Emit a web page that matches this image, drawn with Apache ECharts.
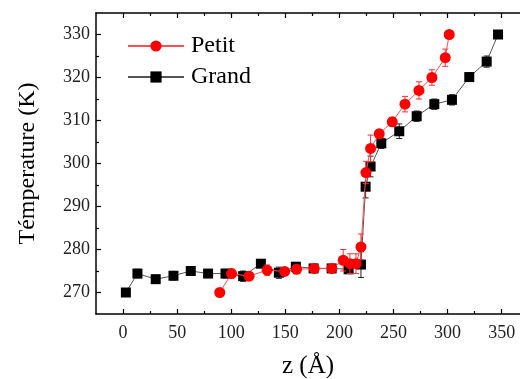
<!DOCTYPE html>
<html>
<head>
<meta charset="utf-8">
<script src="https://cdn.jsdelivr.net/npm/echarts@6/dist/echarts.min.js"></script>
<style>
  html, body { margin: 0; padding: 0; background: #fff; }
  #chart { width: 520px; height: 379px; }
</style>
</head>
<body>
<div id="chart"></div>
<script>
const grandZ = [2.6, 13.3, 30.2, 46.6, 62.6, 78.6, 94.7, 111, 127.4, 144, 159.7, 176.1, 192.8, 208.5, 219.9, 224.2, 228.8, 238.7, 255.3, 271.4, 287.7, 304, 320, 336.1, 346.6];
const grandT = [270.0, 274.4, 273.1, 273.9, 275.0, 274.4, 274.4, 273.8, 276.7, 274.6, 276.0, 275.6, 275.6, 275.4, 276.5, 294.6, 299.3, 304.7, 307.5, 311.0, 313.8, 314.8, 320.1, 323.7, 330.0];
const grandErr = [0, 1.0, 0.9, 1.0, 1.0, 0.8, 1.0, 1.2, 0.9, 1.3, 0.8, 0.9, 0.8, 1.0, 3.0, 2.6, 2.4, 1.2, 1.7, 1.2, 1.2, 1.2, 1.0, 1.3, 0];

const petitZ = [89.4, 100.3, 116.5, 133.2, 149.3, 160.4, 176.7, 193, 203.5, 209.7, 215.3, 219.9, 224.5, 228.8, 236.8, 248.8, 260.6, 273.5, 285.5, 297.8, 301.5];
const petitT = [270.0, 274.4, 273.8, 275.2, 274.9, 275.4, 275.6, 275.6, 277.5, 276.7, 276.7, 280.6, 297.9, 303.5, 306.9, 309.7, 313.8, 317.0, 320.0, 324.6, 330.0];
const petitErr = [0, 1.0, 0.9, 1.2, 0.9, 1.0, 1.0, 1.0, 2.5, 2.3, 2.3, 3.0, 2.6, 3.1, 0.9, 1.0, 1.8, 2.0, 1.8, 2.0, 0];

const xMajor = [0, 50, 100, 150, 200, 250, 300, 350];
const xMinor = [25, 75, 125, 175, 225, 275, 325];
const yMajor = [270, 280, 290, 300, 310, 320, 330];
const yMinor = [275, 285, 295, 305, 315, 325];

const FONT = '"Liberation Serif", "DejaVu Serif", serif';
const X_MIN = -25;
const X_MAX = 366.9;
const Y_MIN = 265;
const Y_MAX = 335;

const zip = (xs, ys) => xs.map((x, i) => [x, ys[i]]);
const zip3 = (xs, ys, es) => xs.map((x, i) => [x, ys[i], es[i]]);

const errorBars = (color) => (params, api) => {
  const x = api.value(0);
  const y = api.value(1);
  const e = api.value(2);
  if (!e) return;
  const top = api.coord([x, y + e]);
  const bot = api.coord([x, y - e]);
  const cap = 3;
  const style = { stroke: color, lineWidth: 1 };
  return {
    type: 'group',
    children: [
      { type: 'line', shape: { x1: top[0], y1: top[1], x2: bot[0], y2: bot[1] }, style },
      { type: 'line', shape: { x1: top[0] - cap, y1: top[1], x2: top[0] + cap, y2: top[1] }, style },
      { type: 'line', shape: { x1: bot[0] - cap, y1: bot[1], x2: bot[0] + cap, y2: bot[1] }, style },
    ],
  };
};

const xAxisBase = (position, ticks, length, showLine, showLabel) => ({
  type: 'value',
  position,
  min: X_MIN,
  max: X_MAX,
  splitLine: { show: false },
  axisLine: { show: showLine, onZero: false, lineStyle: { color: '#000', width: 1.5 } },
  axisTick: { show: true, inside: true, length, customValues: ticks, lineStyle: { color: '#000', width: 1.2 } },
  axisLabel: { show: showLabel, customValues: ticks, margin: 10, fontFamily: FONT, fontSize: 18, color: '#222' },
});

const yAxisBase = (ticks, length, showLine, showLabel) => ({
  type: 'value',
  position: 'left',
  min: Y_MIN,
  max: Y_MAX,
  splitLine: { show: false },
  axisLine: { show: showLine, onZero: false, lineStyle: { color: '#000', width: 1.5 } },
  axisTick: { show: true, inside: true, length, customValues: ticks, lineStyle: { color: '#000', width: 1.2 } },
  axisLabel: { show: showLabel, customValues: ticks, margin: 6, fontFamily: FONT, fontSize: 18, color: '#222' },
});

const xMain = xAxisBase('bottom', xMajor, 5, true, true);
xMain.name = 'z (Å)';
xMain.nameLocation = 'middle';
xMain.nameGap = 40;
xMain.nameTextStyle = { fontFamily: FONT, fontSize: 25, color: '#000' };

const yMain = yAxisBase(yMajor, 5, true, true);
yMain.name = 'Témperature (K)';
yMain.nameLocation = 'middle';
yMain.nameGap = 56;
yMain.nameTextStyle = { fontFamily: FONT, fontSize: 24, color: '#000' };

const chart = echarts.init(document.getElementById('chart'));
chart.setOption({
  animation: false,
  backgroundColor: '#fff',
  grid: { left: 96, right: 0, top: 13, bottom: 65, outerBoundsMode: 'none', containLabel: false },
  legend: {
    orient: 'vertical',
    left: 127,
    top: 34,
    padding: 0,
    itemWidth: 56,
    itemHeight: 14,
    itemGap: 7,
    textStyle: { fontFamily: FONT, fontSize: 24, color: '#000', lineHeight: 24, padding: [0, 0, 0, 2] },
    data: ['Petit', 'Grand'],
  },
  xAxis: [
    xMain,
    xAxisBase('bottom', xMinor, 3, false, false),
    xAxisBase('top', xMajor, 5, true, false),
    xAxisBase('top', xMinor, 3, false, false),
  ],
  yAxis: [
    yMain,
    yAxisBase(yMinor, 3, false, false),
  ],
  series: [
    {
      type: 'custom',
      name: 'grandErr',
      renderItem: errorBars('#222'),
      data: zip3(grandZ, grandT, grandErr),
      z: 1,
      silent: true,
    },
    {
      type: 'line',
      name: 'Grand',
      data: zip(grandZ, grandT),
      symbol: 'rect',
      symbolSize: 10,
      itemStyle: { color: '#000' },
      lineStyle: { color: '#555', width: 1 },
      z: 2,
    },
    {
      type: 'custom',
      name: 'petitErr',
      renderItem: errorBars('#ff3030'),
      data: zip3(petitZ, petitT, petitErr),
      z: 3,
      silent: true,
    },
    {
      type: 'line',
      name: 'Petit',
      data: zip(petitZ, petitT),
      symbol: 'circle',
      symbolSize: 11,
      itemStyle: { color: '#ff0000' },
      lineStyle: { color: '#ff5050', width: 1 },
      z: 4,
    },
  ],
});
</script>
</body>
</html>
